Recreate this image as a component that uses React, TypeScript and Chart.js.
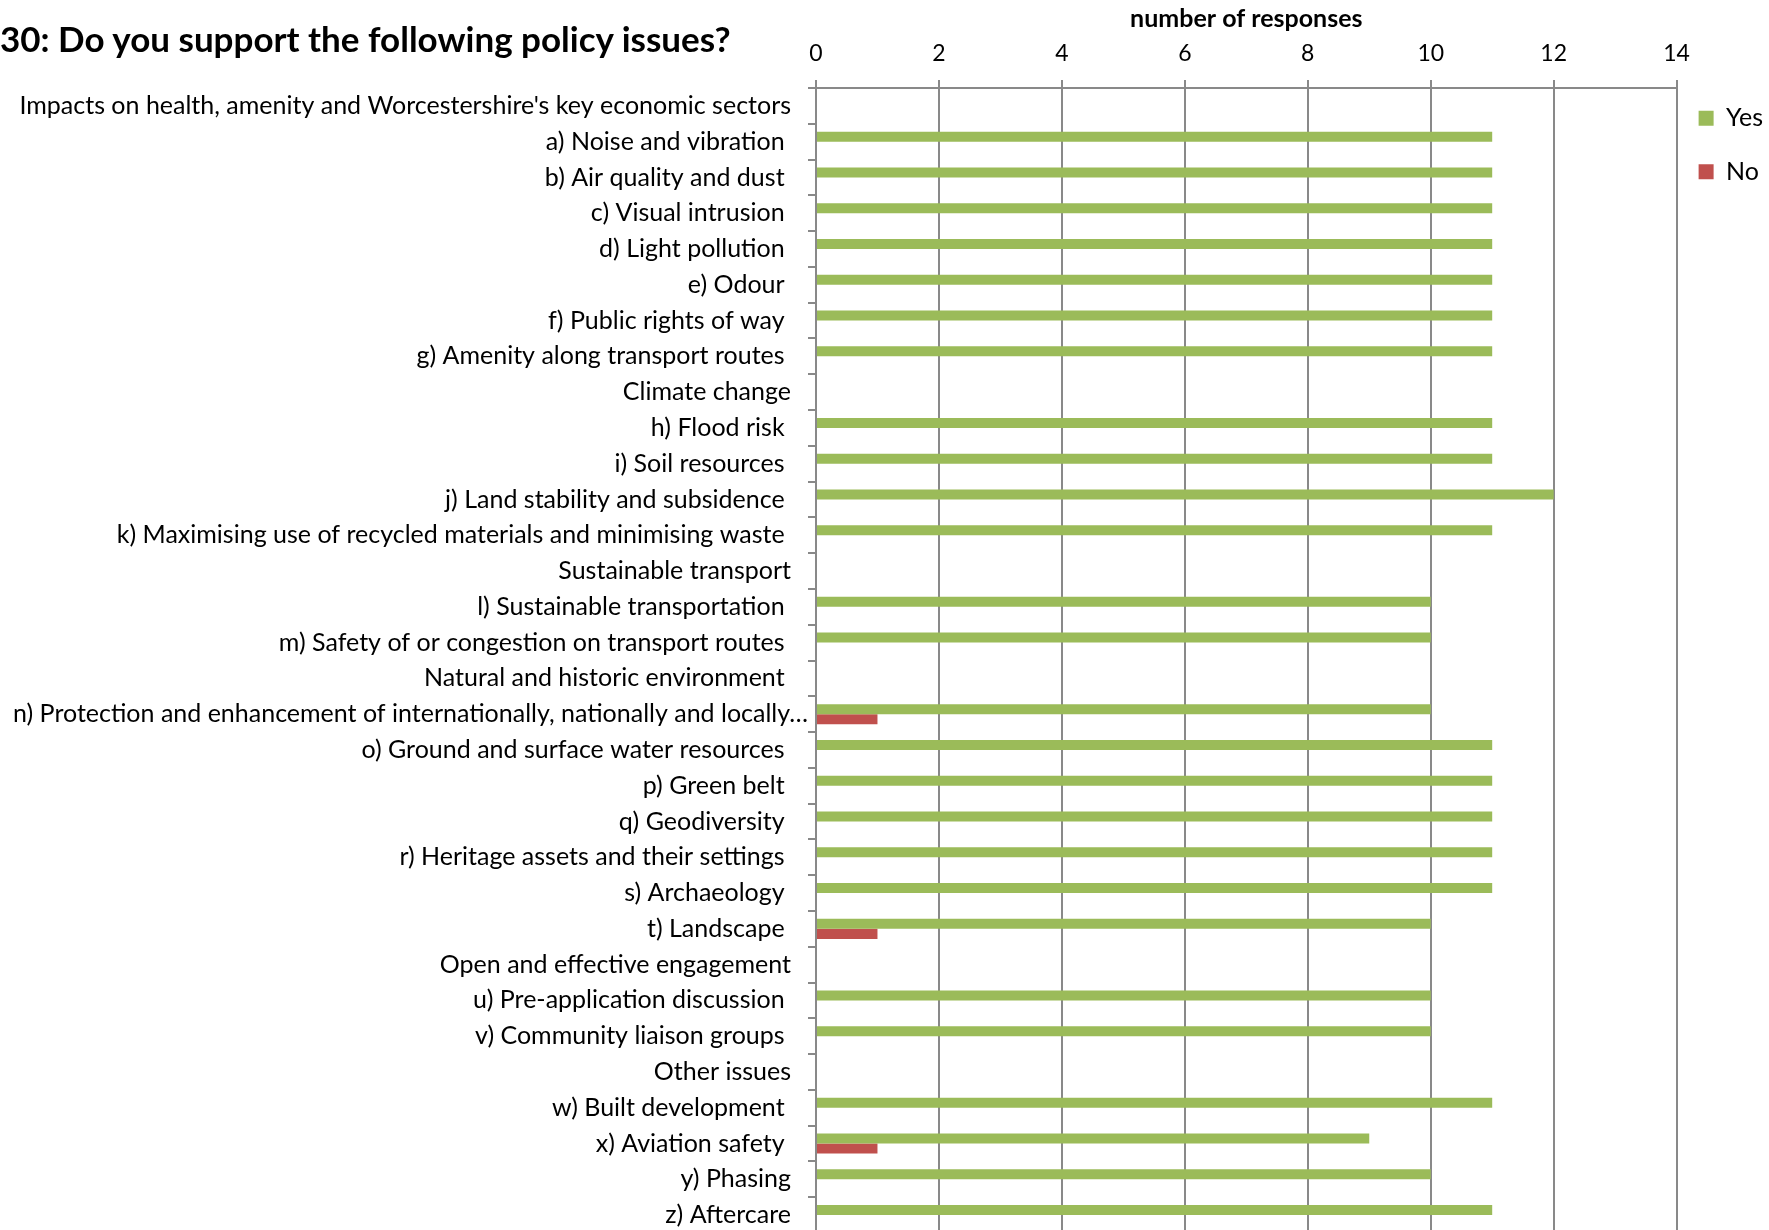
import React, { useEffect, useRef } from "react";
import { Chart, registerables } from "chart.js";

Chart.register(...registerables);

const categories: string[] = [
  "Impacts on health, amenity and Worcestershire's key economic sectors",
  "a) Noise and vibration ",
  "b) Air quality and dust ",
  "c) Visual intrusion ",
  "d) Light pollution ",
  "e) Odour ",
  "f) Public rights of way ",
  "g) Amenity along transport routes ",
  "Climate change",
  "h) Flood risk ",
  "i) Soil resources ",
  "j) Land stability and subsidence ",
  "k) Maximising use of recycled materials and minimising waste ",
  "Sustainable transport",
  "l) Sustainable transportation ",
  "m) Safety of or congestion on transport routes ",
  "Natural and historic environment ",
  "n) Protection and enhancement of internationally, nationally and locally…",
  "o) Ground and surface water resources ",
  "p) Green belt ",
  "q) Geodiversity ",
  "r) Heritage assets and their settings ",
  "s) Archaeology ",
  "t) Landscape ",
  "Open and effective engagement",
  "u) Pre-application discussion ",
  "v) Community liaison groups ",
  "Other issues",
  "w) Built development ",
  "x) Aviation safety ",
  "y) Phasing",
  "z) Aftercare",
];

const yesValues: (number | null)[] = [
  null, 11, 11, 11, 11, 11, 11, 11,
  null, 11, 11, 12, 11,
  null, 10, 10,
  null, 10, 11, 11, 11, 11, 11, 10,
  null, 10, 10,
  null, 11, 9, 10, 11,
];

const noValues: (number | null)[] = [
  null, null, null, null, null, null, null, null,
  null, null, null, null, null,
  null, null, null,
  null, 1, null, null, null, null, null, 1,
  null, null, null,
  null, null, 1, null, null,
];

const seriesNames = ["Yes", "No"];
const xTicksMax = 14;
const xTickStep = 2;
const titleText = "30: Do you support the following policy issues?";
const axisTitle = "number of responses";
// the truncated label that Excel let run into the tick area
const overflowLabel = categories[17];

const FONT = "Lato, 'Open Sans', sans-serif";
const GRID = "#898989";

const overflowLabelPlugin = {
  id: "overflowLabel",
  beforeDraw(chart: any) {
    const scale = chart.scales.y;
    if (!scale) return;
    const items = scale.getLabelItems();
    items.forEach((it: any) => {
      if (it.label === overflowLabel) {
        it.options.translation[0] = chart.chartArea.left - 8;
      }
    });
  },
};

export default function App() {
  const ref = useRef<HTMLCanvasElement | null>(null);

  useEffect(() => {
    const canvas = ref.current;
    if (!canvas) return;
    const chart = new Chart(canvas, {
      type: "bar",
      data: {
        labels: categories,
        datasets: [
          {
            label: seriesNames[0],
            data: yesValues,
            backgroundColor: "#9BBB59",
            borderWidth: 0,
            categoryPercentage: 0.56,
            barPercentage: 1,
          },
          {
            label: seriesNames[1],
            data: noValues,
            backgroundColor: "#C0504D",
            borderWidth: 0,
            categoryPercentage: 0.56,
            barPercentage: 1,
          },
        ],
      },
      plugins: [overflowLabelPlugin],
      options: {
        indexAxis: "y",
        responsive: false,
        animation: false,
        layout: { padding: { left: 0, top: 0, right: -4, bottom: 0 } },
        scales: {
          x: {
            position: "top",
            min: 0,
            max: xTicksMax,
            ticks: {
              stepSize: xTickStep,
              color: "#000",
              padding: 13,
              font: { family: FONT, size: 23 },
            },
            grid: {
              color: GRID,
              lineWidth: 2,
              tickLength: 8,
              drawTicks: true,
            },
            border: { display: true, color: GRID, width: 2 },
            title: {
              display: true,
              text: axisTitle,
              color: "#000",
              font: { family: FONT, size: 25, weight: "bold" },
              padding: { top: 4, bottom: 4 },
            },
            afterFit: (scale: any) => {
              scale.height = 88;
            },
          },
          y: {
            position: "left",
            ticks: {
              color: "#000",
              padding: 17,
              autoSkip: false,
              font: { family: FONT, size: 25 },
            },
            grid: {
              drawOnChartArea: false,
              drawTicks: true,
              tickLength: 8,
              lineWidth: 2,
              color: GRID,
              offset: true,
            },
            border: { display: true, color: GRID, width: 2 },
            afterFit: (scale: any) => {
              scale.width = 816;
              scale.paddingTop = 0;
              scale.paddingBottom = 0;
            },
          },
        },
        plugins: {
          title: { display: false },
          tooltip: { enabled: false },
          legend: {
            position: "right",
            align: "start",
            fullSize: true,
            title: {
              display: true,
              text: " ",
              font: { family: FONT, size: 12, lineHeight: 1 },
              padding: { top: 71.7, bottom: 0 },
            },
            labels: {
              boxWidth: 15,
              boxHeight: 15,
              padding: 22,
              color: "#000",
              font: { family: FONT, size: 25, lineHeight: 31.5 / 25 },
              generateLabels: (c: any) =>
                Chart.defaults.plugins.legend.labels
                  .generateLabels(c)
                  .map((l: any) => ({ ...l, text: [l.text], lineWidth: 0 })),
            },
          },
        },
      },
    });
    return () => chart.destroy();
  }, []);

  return (
    <div
      style={{
        position: "absolute",
        left: 0,
        top: 0,
        width: 1769,
        height: 1230,
        background: "#fff",
        overflow: "hidden",
      }}
    >
      <canvas ref={ref} width={1769} height={1233} style={{ display: "block" }} />
      <div
        style={{
          position: "absolute",
          left: 0,
          top: 16,
          height: 44,
          lineHeight: "44px",
          fontFamily: FONT,
          fontWeight: "bold",
          fontSize: 35,
          color: "#000",
          whiteSpace: "nowrap",
        }}
      >
        {titleText}
      </div>
    </div>
  );
}
